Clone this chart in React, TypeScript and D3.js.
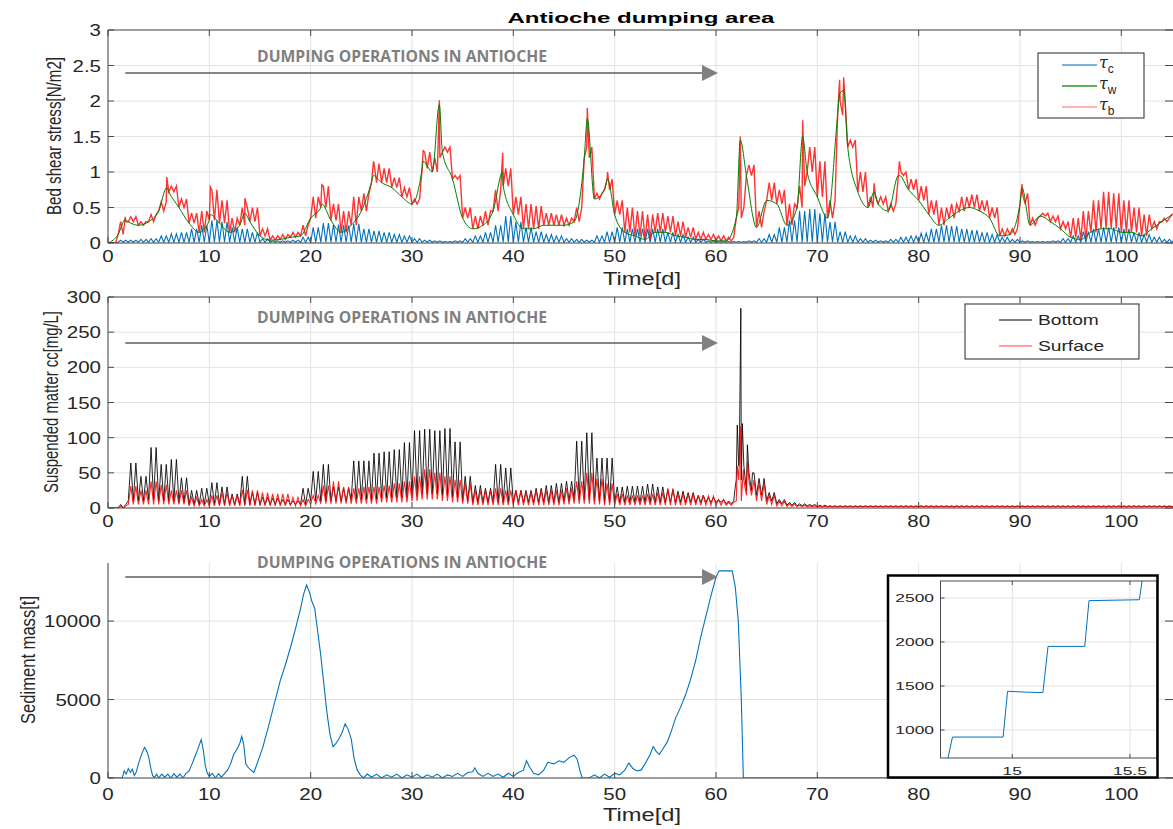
import React from "react";
import * as d3 from "d3";

type Pt = [number, number];

// ---- panel 1: bed shear stress, one value per day (index = day) ----
const tauW = [
  0, 0.12, 0.3, 0.25, 0.3, 0.45, 0.72, 0.5, 0.28, 0.15,
  0.32, 0.28, 0.15, 0.25, 0.3, 0.1, 0.04, 0.05, 0.08, 0.1,
  0.35, 0.5, 0.32, 0.15, 0.25, 0.45, 0.85, 0.85, 0.78, 0.65,
  0.55, 1.05, 1.0, 1.28, 0.9, 0.35, 0.2, 0.25, 0.45, 0.8,
  0.4, 0.2, 0.2, 0.25, 0.25, 0.25, 0.3, 1.2, 0.62, 0.75,
  0.4, 0.15, 0.1, 0.05, 0.15, 0.15, 0.1, 0.08, 0.05, 0.05,
  0.03, 0.03, 0.35, 0.95, 0.22, 0.6, 0.55, 0.25, 0.5, 1.0,
  0.65, 0.35, 1.8, 1.35, 0.72, 0.5, 0.55, 0.45, 0.95, 0.75,
  0.6, 0.4, 0.25, 0.35, 0.45, 0.5, 0.45, 0.35, 0.1, 0.12,
  0.55, 0.25, 0.38, 0.3, 0.2, 0.08, 0.05, 0.15, 0.2, 0.2,
  0.15, 0.15, 0.1, 0.2, 0.3, 0.4,
];
const tauB = [
  0, 0.3, 0.37, 0.3, 0.4, 0.58, 0.8, 0.62, 0.42, 0.45,
  0.75, 0.6, 0.35, 0.5, 0.5, 0.2, 0.1, 0.12, 0.15, 0.25,
  0.65, 0.8, 0.55, 0.45, 0.65, 0.7, 1.12, 1.05, 0.92, 0.78,
  0.62, 1.28, 1.2, 1.35, 0.95, 0.5, 0.38, 0.45, 0.75, 1.05,
  0.65, 0.55, 0.52, 0.42, 0.4, 0.35, 0.5, 1.35, 0.7, 0.9,
  0.6, 0.5, 0.45, 0.4, 0.42, 0.38, 0.3, 0.22, 0.15, 0.12,
  0.1, 0.08, 0.5, 1.1, 0.45, 0.85, 0.75, 0.55, 0.8, 1.35,
  1.15, 0.6, 2.0, 1.45, 1.0, 0.65, 0.65, 0.55, 1.0, 0.9,
  0.8, 0.6, 0.5, 0.55, 0.65, 0.68, 0.6, 0.5, 0.2, 0.2,
  0.7, 0.35, 0.42, 0.38, 0.3, 0.35, 0.45, 0.6, 0.72, 0.7,
  0.6, 0.5, 0.4, 0.3, 0.35, 0.42,
];
const tauC = [
  0, 0.04, 0.04, 0.05, 0.06, 0.1, 0.13, 0.15, 0.2, 0.25,
  0.32, 0.3, 0.22, 0.2, 0.15, 0.06, 0.03, 0.03, 0.04, 0.08,
  0.22, 0.28, 0.26, 0.25, 0.27, 0.2, 0.17, 0.15, 0.12, 0.1,
  0.06, 0.04, 0.03, 0.02, 0.03, 0.06, 0.1, 0.15, 0.25, 0.38,
  0.3, 0.22, 0.16, 0.12, 0.1, 0.06, 0.05, 0.04, 0.1, 0.16,
  0.22, 0.2, 0.2, 0.2, 0.2, 0.15, 0.12, 0.08, 0.05, 0.03,
  0.02, 0.02, 0.02, 0.03, 0.06, 0.12, 0.22, 0.32, 0.45, 0.48,
  0.42, 0.3, 0.16, 0.1, 0.06, 0.04, 0.03, 0.05, 0.08, 0.1,
  0.14, 0.2, 0.25, 0.24, 0.2, 0.18, 0.15, 0.12, 0.08, 0.05,
  0.03, 0.02, 0.02, 0.03, 0.06, 0.1, 0.16, 0.2, 0.22, 0.22,
  0.2, 0.15, 0.12, 0.08, 0.05, 0.05,
];
const tauCLow = 0.01;
// narrow storm peaks
const stormT = [1.7, 5.8, 10.1, 13.5, 21.1, 26.2, 31.1, 32.7, 38.95, 47.3, 49.3, 62.4, 68.55, 72.2, 72.6, 75.6, 78.1, 90.2];
const stormW = [0.33, 0.78, 0.4, 0.42, 0.55, 0.95, 1.15, 1.95, 1.0, 1.75, 0.9, 1.45, 1.5, 2.1, 2.15, 0.72, 0.95, 0.78];
const stormB = [0.37, 0.93, 0.79, 0.63, 0.82, 1.15, 1.3, 2.01, 1.27, 1.9, 1.0, 1.5, 1.73, 2.3, 2.33, 0.84, 1.15, 0.83];

// ---- panel 2: suspended matter, daily peaks and lows ----
const bottomHi = [
  0, 5, 64, 45, 86, 62, 69, 43, 25, 28,
  36, 30, 20, 45, 22, 15, 14, 12, 10, 28,
  52, 62, 30, 28, 67, 67, 78, 80, 83, 93,
  110, 112, 110, 113, 94, 45, 32, 28, 62, 57,
  25, 25, 28, 32, 35, 38, 95, 107, 71, 71,
  30, 31, 31, 34, 30, 26, 24, 22, 18, 15,
  12, 10, 60, 50, 42, 22, 12, 8, 6, 5,
  4, 3, 3, 3, 3, 3, 3, 3, 3, 3,
  3, 3, 3, 3, 3, 3, 3, 3, 3, 3,
  3, 3, 3, 3, 3, 3, 3, 3, 3, 3,
  3, 3, 3, 3, 3, 3,
];
const bottomLo = [
  0, 0, 10, 10, 12, 10, 10, 8, 5, 5,
  5, 5, 5, 5, 5, 5, 5, 5, 5, 5,
  10, 10, 10, 10, 12, 12, 12, 14, 15, 15,
  18, 20, 20, 18, 15, 10, 8, 8, 8, 8,
  8, 8, 8, 8, 8, 10, 12, 12, 10, 8,
  8, 8, 8, 8, 8, 8, 8, 8, 8, 8,
  8, 6, 40, 25, 18, 10, 6, 4, 3, 3,
  2, 2, 2, 2, 2, 2, 2, 2, 2, 2,
  2, 2, 2, 2, 2, 2, 2, 2, 2, 2,
  2, 2, 2, 2, 2, 2, 2, 2, 2, 2,
  2, 2, 2, 2, 2, 2,
];
const surfaceHi = [
  0, 3, 31, 25, 38, 33, 25, 25, 15, 12,
  18, 22, 18, 26, 25, 22, 20, 20, 15, 12,
  18, 32, 38, 30, 28, 30, 30, 32, 35, 38,
  45, 55, 50, 45, 40, 35, 25, 25, 28, 25,
  25, 22, 25, 25, 25, 28, 38, 50, 42, 35,
  20, 18, 18, 20, 22, 28, 20, 20, 18, 17,
  12, 8, 40, 40, 35, 18, 10, 6, 4, 3,
  2.5, 2.5, 2.5, 2.5, 2.5, 2.5, 2.5, 2.5, 2.5, 2.5,
  2.5, 2.5, 2.5, 2.5, 2.5, 2.5, 2.5, 2.5, 2.5, 2.5,
  2.5, 2.5, 2.5, 2.5, 2.5, 2.5, 2.5, 2.5, 2.5, 2.5,
  2.5, 2.5, 2.5, 2.5, 2.5, 2.5,
];
const surfaceLo = [
  0, 0, 5, 5, 5, 5, 5, 5, 3, 3,
  3, 3, 3, 3, 3, 3, 3, 3, 3, 3,
  6, 6, 6, 6, 6, 6, 6, 8, 8, 8,
  10, 12, 12, 10, 8, 6, 4, 4, 4, 4,
  4, 4, 4, 4, 4, 5, 6, 6, 5, 4,
  4, 4, 4, 4, 4, 4, 4, 4, 4, 4,
  4, 4, 10, 18, 10, 5, 3, 2, 2, 2,
  1.5, 1.5, 1.5, 1.5, 1.5, 1.5, 1.5, 1.5, 1.5, 1.5,
  1.5, 1.5, 1.5, 1.5, 1.5, 1.5, 1.5, 1.5, 1.5, 1.5,
  1.5, 1.5, 1.5, 1.5, 1.5, 1.5, 1.5, 1.5, 1.5, 1.5,
  1.5, 1.5, 1.5, 1.5, 1.5, 1.5,
];
const bottomPeakT = [61.9, 62.1, 62.3, 62.45, 62.6, 63.1, 63.6];
const bottomPeakV = [30, 118, 70, 284, 120, 90, 50];
const surfacePeakT = [62.1, 62.4, 62.7, 63.1];
const surfacePeakV = [60, 116, 55, 66];

// ---- panel 3: sediment mass ----
const massT = [
  0, 1.4, 1.6, 1.8, 2.0, 2.2, 2.4, 2.6, 2.8, 3.0, 3.2, 3.4, 3.6, 3.8, 4.0, 4.2, 4.4, 4.6, 4.8,
  5.0, 5.3, 5.6, 5.9, 6.2, 6.5, 6.8, 7.1, 7.4, 7.7, 8.0, 8.3, 8.6, 8.9, 9.2, 9.4, 9.6, 9.8,
  10.0, 10.3, 10.6, 10.9, 11.2, 11.5, 11.8, 12.1, 12.4, 12.7, 13.0, 13.2, 13.4, 13.6, 13.8,
  14.1, 14.4, 14.7, 15.0, 15.3, 15.5, 15.8, 16.2, 16.6, 17.0, 17.5, 18.0, 18.5, 19.0, 19.3,
  19.6, 19.9, 20.1, 20.4, 20.7, 21.0, 21.3, 21.6, 21.9, 22.2, 22.5, 22.8, 23.1, 23.4, 23.7,
  24.0, 24.3, 24.6, 24.9, 25.2, 25.6, 26.0, 26.5, 27.0, 27.5, 28.0, 28.5, 29.0, 29.5, 30.0,
  30.5, 31.0, 31.5, 32.0, 32.5, 33.0, 33.5, 34.0, 34.5, 35.0, 35.5, 36.0, 36.2, 36.5, 37.0,
  37.5, 38.0, 38.5, 39.0, 39.5, 40.0, 40.5, 41.0, 41.3, 41.6, 42.0, 42.5, 43.0, 43.4, 44.0,
  44.5, 45.0, 45.5, 46.0, 46.3, 46.6, 46.8, 47.5, 48.0, 48.5, 49.0, 49.5, 50.0, 50.5, 51.0,
  51.4, 51.8, 52.2, 52.6, 53.0, 53.5, 53.8, 54.1, 54.4, 54.8, 55.2, 55.6, 56.0, 56.5, 57.0,
  57.5, 58.0, 58.5, 59.0, 59.5, 60.0, 60.3, 61.6, 61.9, 62.2, 62.5, 62.7, 105.1,
];
const massV = [
  0, 0, 450, 250, 600, 350, 550, 150, 400, 900, 1300, 1650, 1950, 1750, 1400, 700, 150, 50, 250,
  0, 250, 50, 250, 0, 280, 50, 250, 0, 300, 450, 900, 1400, 1900, 2450, 1800, 800, 300,
  100, 300, 0, 280, 50, 300, 500, 900, 1500, 1800, 2200, 2650, 2100, 900, 700,
  500, 350, 900, 1440, 2000, 2500, 3200, 4200, 5200, 6200, 7200, 8300, 9500, 10800, 11700,
  12300, 11800, 11300, 10800, 9300, 7800, 6000, 4200, 2800, 2000, 2200, 2500, 2900, 3450, 3100,
  2500, 1200, 500, 200, 0, 250, 50, 250, 0, 200, 50, 250, 0, 200, 50,
  250, 0, 200, 50, 250, 0, 200, 100, 300, 100, 350, 400, 650, 300, 100,
  300, 100, 250, 50, 300, 100, 350, 500, 1100, 700, 300, 200, 500, 1000, 900,
  1100, 1000, 1300, 1450, 1200, 400, 0, 0, 200, 0, 250, 50, 300, 200, 500,
  950, 600, 450, 500, 900, 1500, 2000, 1700, 1500, 1900, 2300, 3000, 3800, 4500, 5300,
  6300, 7500, 9000, 10300, 11600, 12800, 13200, 13200, 12200, 10000, 5000, 0, 0,
];
// inset: zoom on the stepwise filling around day 15
const insetT = [14.72, 14.746, 14.961, 14.98, 15.06, 15.13, 15.152, 15.308, 15.326, 15.54, 15.553];
const insetV = [600, 920, 920, 1440, 1430, 1425, 1950, 1950, 2470, 2480, 2720];

const timeTicks = [0, 10, 20, 30, 40, 50, 60, 70, 80, 90, 100];
const tauTicks = [0, 0.5, 1, 1.5, 2, 2.5, 3];
const ssTicks = [0, 50, 100, 150, 200, 250, 300];
const massTicks = [0, 5000, 10000];
const insetXTicks = [15, 15.5];
const insetYTicks = [1000, 1500, 2000, 2500];
const dumpStart = 1.7;
const dumpEnd = 60.2;

const W = 1173, H = 829;
const SANS = "'Liberation Sans', Arial, Helvetica, sans-serif";
const INK = "#262626";
const AXIS = "#4a4a4a";
const GRID = "#e2e2e2";
const BLUE = "#0072BD";
const GREEN = "#008000";
const RED = "#ff0000";

const X0 = 108, X1 = 1173;
const x = d3.scaleLinear().domain([0, 105.1]).range([X0, X1]);
const y1 = d3.scaleLinear().domain([0, 3]).range([243, 30]);
const y2 = d3.scaleLinear().domain([0, 300]).range([508, 297]);
const y3 = d3.scaleLinear().domain([0, 13700]).range([778, 563]);
const xi = d3.scaleLinear().domain([14.695, 15.615]).range([940.5, 1157]);
const yi = d3.scaleLinear().domain([682, 2693]).range([758, 581]);

// tidal series: each day gets `perDay` low/high pairs, plus isolated peaks
function tide(hi: number[], lo: number[] | number, perDay: number, extraT: number[] = [], extraV: number[] = []): Pt[] {
  const pts: Pt[] = [];
  hi.forEach((h, d) => {
    const l = typeof lo === "number" ? lo : lo[d];
    for (let k = 0; k < perDay; k++) {
      pts.push([d + k / perDay, Math.min(l, h)]);
      pts.push([d + (k + 0.5) / perDay, h]);
    }
  });
  extraT.forEach((t, i) => pts.push([t, extraV[i]]));
  return pts.sort((a, b) => a[0] - b[0]);
}

function T({ x, y, sx = 1.28, size = 16, anchor = "middle", weight = 400, fill = INK, children }: any) {
  return (
    <text transform={`translate(${x},${y}) scale(${sx},1)`} fontSize={size} textAnchor={anchor}
      fontWeight={weight} fill={fill} fontFamily={SANS}>{children}</text>
  );
}

// rotated axis title; glyphs widened like the rest of the picture
function YLabel({ x, y, len, children }: any) {
  return (
    <text transform={`translate(${x},${y}) scale(1.3,1) rotate(-90)`} textAnchor="middle" fontSize={16}
      fill={INK} fontFamily={SANS} textLength={len} lengthAdjust="spacingAndGlyphs">{children}</text>
  );
}

function Grid({ ys, yTicks }: any) {
  const [yb, yt] = ys.range();
  return (
    <g stroke={GRID} strokeWidth={1}>
      {timeTicks.map((t) => <line key={"gx" + t} x1={x(t)} x2={x(t)} y1={yt} y2={yb} />)}
      {yTicks.map((v: number) => <line key={"gy" + v} x1={X0} x2={X1} y1={ys(v)} y2={ys(v)} />)}
    </g>
  );
}

function Axes({ ys, yTicks, fmt, top, labY }: any) {
  const [yb, yt] = ys.range();
  const tk = 6;
  return (
    <g>
      <g stroke={AXIS} strokeWidth={1} fill="none">
        <line x1={X0} x2={X0} y1={yt} y2={yb} />
        <line x1={X0} x2={X1} y1={yb} y2={yb} />
        {top && <line x1={X0} x2={X1} y1={yt} y2={yt} />}
        {timeTicks.map((t) => <line key={"b" + t} x1={x(t)} x2={x(t)} y1={yb} y2={yb - tk} />)}
        {top && timeTicks.map((t) => <line key={"t" + t} x1={x(t)} x2={x(t)} y1={yt} y2={yt + tk} />)}
        {yTicks.map((v: number) => <line key={"l" + v} x1={X0} x2={X0 + tk} y1={ys(v)} y2={ys(v)} />)}
        {yTicks.map((v: number) => <line key={"r" + v} x1={X1 - 8} x2={X1} y1={ys(v)} y2={ys(v)} />)}
      </g>
      {timeTicks.map((t) => <T key={"xl" + t} x={x(t)} y={labY}>{t}</T>)}
      {yTicks.map((v: number) => <T key={"yl" + v} x={101} y={ys(v) + 6} anchor="end">{fmt(v)}</T>)}
    </g>
  );
}

function Dumping({ textY, arrowY }: any) {
  const xa = x(dumpStart), xb = x(dumpEnd);
  return (
    <g>
      <text x={402} y={textY} textAnchor="middle" fontFamily="'Open Sans', sans-serif" fontWeight={700}
        fontSize={16} fill="#7f7f7f" textLength={290} lengthAdjust="spacingAndGlyphs">
        DUMPING OPERATIONS IN ANTIOCHE
      </text>
      <line x1={xa} x2={xb - 15} y1={arrowY} y2={arrowY} stroke="#5c5c5c" strokeWidth={1.5} />
      <path d={`M${xb - 16},${arrowY - 8} L${xb},${arrowY} L${xb - 16},${arrowY + 8} Z`} fill="#808080" />
    </g>
  );
}

export default function App() {
  const days = d3.range(0, tauW.length);
  const l1 = d3.line<Pt>().x((d) => x(d[0])).y((d) => y1(d[1]));
  const l1s = d3.line<Pt>().x((d) => x(d[0])).y((d) => y1(d[1])).curve(d3.curveMonotoneX);
  const l2 = d3.line<Pt>().x((d) => x(d[0])).y((d) => y2(d[1]));
  const l3 = d3.line<Pt>().x((d) => x(d[0])).y((d) => y3(d[1]));
  const li = d3.line<Pt>().x((d) => xi(d[0])).y((d) => yi(d[1]));

  const cPts = tide(tauC, tauCLow, 2);
  const bPts = tide(tauB, tauW, 2, stormT, stormB);
  const wPts: Pt[] = (days.map((d) => [d, tauW[d]] as Pt))
    .concat(stormT.map((t, i) => [t, stormW[i]] as Pt))
    .sort((a, b) => a[0] - b[0]);
  const botPts = tide(bottomHi, bottomLo, 2, bottomPeakT, bottomPeakV);
  const surPts = tide(surfaceHi, surfaceLo, 2, surfacePeakT, surfacePeakV);
  const massPts: Pt[] = massT.map((t, i) => [t, massV[i]]);
  const insetPts: Pt[] = insetT.map((t, i) => [t, insetV[i]]);

  const fmt = (v: number) => String(v);

  return (
    <svg width={W} height={H} viewBox={`0 0 ${W} ${H}`} style={{ position: "absolute", left: 0, top: 0 }}>
      <rect width={W} height={H} fill="#fff" />
      <defs>
        <clipPath id="c1"><rect x={X0} y={30} width={X1 - X0} height={213} /></clipPath>
        <clipPath id="c2"><rect x={X0} y={297} width={X1 - X0} height={211} /></clipPath>
        <clipPath id="c3"><rect x={X0} y={563} width={X1 - X0} height={215} /></clipPath>
        <clipPath id="ci"><rect x={940.5} y={581} width={216.5} height={177} /></clipPath>
      </defs>

      {/* title */}
      <text x={641} y={23} textAnchor="middle" fontFamily={SANS} fontWeight={700} fontSize={15.5} fill="#000"
        textLength={267} lengthAdjust="spacingAndGlyphs">Antioche dumping area</text>

      {/* ---- panel 1 ---- */}
      <Grid ys={y1} yTicks={tauTicks} />
      <g clipPath="url(#c1)" fill="none">
        <path d={l1(cPts) || ""} stroke={BLUE} strokeWidth={1.1} />
        <path d={l1(bPts) || ""} stroke={RED} strokeWidth={1.4} strokeOpacity={0.8} />
        <path d={l1s(wPts) || ""} stroke={GREEN} strokeWidth={1} />
      </g>
      <Axes ys={y1} yTicks={tauTicks} fmt={fmt} top labY={262} />
      <Dumping textY={62} arrowY={73} />
      <YLabel x={61} y={136} len={158}>Bed shear stress[N/m2]</YLabel>
      <text x={642} y={285} textAnchor="middle" fontSize={18} fill={INK}
        fontFamily={SANS} textLength={78} lengthAdjust="spacingAndGlyphs">Time[d]</text>
      <g>
        <rect x={1038} y={53} width={106} height={65} fill="#fff" stroke={INK} strokeWidth={1} />
        {[
          { c: "#4d9ad6", s: "c", y: 65 },
          { c: "#2a962a", s: "w", y: 86 },
          { c: "#ff9a9a", s: "b", y: 107 },
        ].map((it) => (
          <g key={it.s}>
            <line x1={1062} x2={1097} y1={it.y} y2={it.y} stroke={it.c} strokeWidth={1.5} />
            <text x={1099} y={it.y + 3} fontSize={16} fill={INK} fontFamily="'DejaVu Serif', serif" fontStyle="italic">
              τ<tspan dy={5} fontSize={12} fontFamily={SANS} fontStyle="normal">{it.s}</tspan>
            </text>
          </g>
        ))}
      </g>

      {/* ---- panel 2 ---- */}
      <Grid ys={y2} yTicks={ssTicks} />
      <g clipPath="url(#c2)" fill="none">
        <path d={l2(botPts) || ""} stroke="#000" strokeWidth={1} strokeOpacity={0.85} />
        <path d={l2(surPts) || ""} stroke={RED} strokeWidth={1.1} strokeOpacity={0.85} />
      </g>
      <Axes ys={y2} yTicks={ssTicks} fmt={fmt} top labY={527} />
      <Dumping textY={323} arrowY={343} />
      <YLabel x={58} y={402} len={182}>Suspended matter cc[mg/L]</YLabel>
      <g>
        <rect x={965} y={304} width={174} height={55} fill="#fff" stroke={INK} strokeWidth={1} />
        <line x1={999} x2={1032} y1={320} y2={320} stroke="#000" strokeWidth={1} />
        <line x1={999} x2={1032} y1={346} y2={346} stroke="#ff8080" strokeWidth={1.3} />
        <T x={1038} y={325} anchor="start" size={15}>Bottom</T>
        <T x={1038} y={351} anchor="start" size={15}>Surface</T>
      </g>

      {/* ---- panel 3 ---- */}
      <Grid ys={y3} yTicks={massTicks} />
      <g clipPath="url(#c3)" fill="none">
        <path d={l3(massPts) || ""} stroke={BLUE} strokeWidth={1.1} />
      </g>
      <Axes ys={y3} yTicks={massTicks} fmt={fmt} top={false} labY={800} />
      <Dumping textY={568} arrowY={577} />
      <YLabel x={35} y={660} len={128}>Sediment mass[t]</YLabel>
      <text x={642} y={821} textAnchor="middle" fontSize={18} fill={INK} fontFamily={SANS}
        textLength={78} lengthAdjust="spacingAndGlyphs">Time[d]</text>

      {/* inset */}
      <g>
        <rect x={888} y={575.5} width={269.5} height={202} fill="#fff" />
        <g stroke={GRID} strokeWidth={1}>
          {insetXTicks.map((t) => <line key={"ix" + t} x1={xi(t)} x2={xi(t)} y1={581} y2={758} />)}
          {insetYTicks.map((v) => <line key={"iy" + v} x1={940.5} x2={1157} y1={yi(v)} y2={yi(v)} />)}
        </g>
        <g clipPath="url(#ci)" fill="none">
          <path d={li(insetPts) || ""} stroke={BLUE} strokeWidth={1} />
        </g>
        <g stroke={AXIS} strokeWidth={1} fill="none">
          <rect x={940.5} y={581} width={216.5} height={177} />
          {insetXTicks.map((t) => <line key={"itk" + t} x1={xi(t)} x2={xi(t)} y1={581} y2={585} />)}
          {insetXTicks.map((t) => <line key={"ibk" + t} x1={xi(t)} x2={xi(t)} y1={758} y2={754} />)}
          {insetYTicks.map((v) => <line key={"ilk" + v} x1={940.5} x2={944.5} y1={yi(v)} y2={yi(v)} />)}
        </g>
        {insetXTicks.map((t) => <T key={"ixl" + t} x={xi(t)} y={775} sx={1.5} size={11.6}>{t}</T>)}
        {insetYTicks.map((v) => <T key={"iyl" + v} x={934} y={yi(v) + 4.2} sx={1.5} size={11.6} anchor="end">{v}</T>)}
        <rect x={888} y={575.5} width={269.5} height={202} fill="none" stroke="#000" strokeWidth={2.5} />
      </g>
    </svg>
  );
}
